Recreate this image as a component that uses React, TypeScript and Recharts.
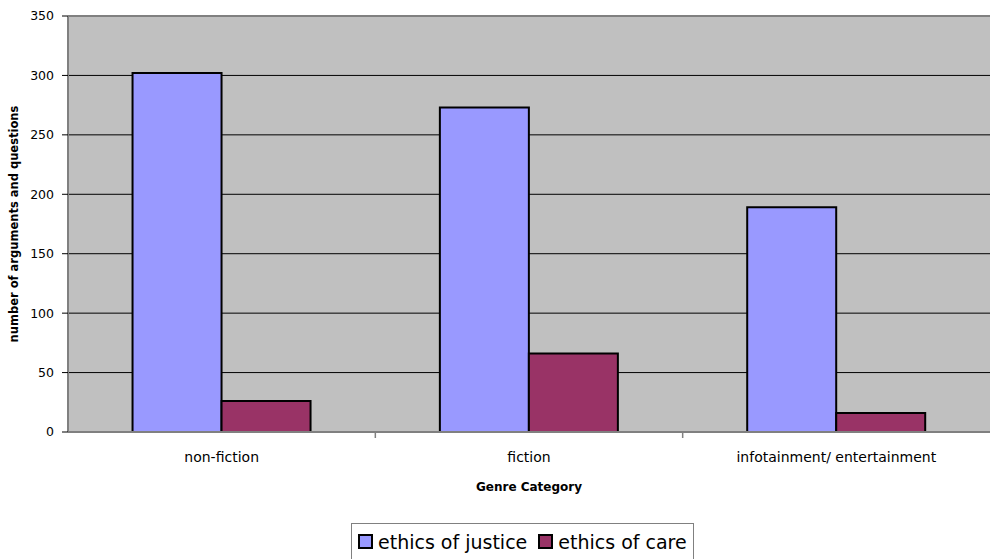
import React from "react";
import { BarChart, Bar, XAxis, YAxis, CartesianGrid, ReferenceLine } from "recharts";

const categories = ["non-fiction", "fiction", "infotainment/ entertainment"];
const justiceValues = [302, 273, 189];
const careValues = [26, 66, 16];
const yTicks = [0, 50, 100, 150, 200, 250, 300, 350];

const SERIES = [
  { key: "justice", name: "ethics of justice", color: "#9999FF" },
  { key: "care", name: "ethics of care", color: "#993366" }
];

const FONT = "'DejaVu Sans', Verdana, sans-serif";
const AXIS_GREY = "#808080";

const data = categories.map((name, i) => ({
  name,
  justice: justiceValues[i],
  care: careValues[i]
}));

// category label in the middle of the band, tick mark at the band's left edge
const CategoryTick = (props: any) => {
  const { x, y, payload } = props;
  const half = payload && payload.offset ? payload.offset : 0;
  const axisY = y - 8;
  return (
    <g>
      {payload.index > 0 && (
        <line x1={x - half} x2={x - half} y1={axisY} y2={axisY + 6} stroke={AXIS_GREY} strokeWidth={1.5} />
      )}
      <text x={x} y={axisY + 30} textAnchor="middle" fontSize={14} fontFamily={FONT} fill="#000">
        {payload.value}
      </text>
    </g>
  );
};

const YTitle = (props: any) => {
  const vb = props.viewBox || { x: 0, y: 16, width: 68, height: 416 };
  const cx = 14;
  const cy = vb.y + vb.height / 2;
  return (
    <text
      x={cx}
      y={cy}
      transform={`rotate(-90, ${cx}, ${cy})`}
      textAnchor="middle"
      dominantBaseline="central"
      fontSize={11.5}
      fontWeight="bold"
      fontFamily={FONT}
      fill="#000"
    >
      number of arguments and questions
    </text>
  );
};

const XTitle = (props: any) => {
  const vb = props.viewBox || { x: 68, y: 432, width: 922, height: 127 };
  return (
    <text
      x={vb.x + vb.width / 2}
      y={vb.y + 55}
      textAnchor="middle"
      dominantBaseline="central"
      fontSize={12}
      fontWeight="bold"
      fontFamily={FONT}
      fill="#000"
    >
      Genre Category
    </text>
  );
};

export default function App() {
  return (
    <div style={{ position: "absolute", left: 0, top: 0, width: 990, height: 559, background: "#fff" }}>
      <BarChart
        width={990}
        height={559}
        data={data}
        margin={{ top: 16, right: 0, left: 0, bottom: 0 }}
        barCategoryGap="21%"
        barGap={0}
      >
        <CartesianGrid vertical={false} stroke="#000" strokeOpacity={1} fill="#C0C0C0" fillOpacity={1} />
        <XAxis
          dataKey="name"
          height={127}
          interval={0}
          tickLine={false}
          axisLine={{ stroke: AXIS_GREY, strokeWidth: 2 }}
          tick={<CategoryTick />}
          label={<XTitle />}
        />
        <YAxis
          width={68}
          domain={[0, 350]}
          ticks={yTicks}
          interval={0}
          tickSize={6}
          tickMargin={8}
          tickLine={{ stroke: "#000" }}
          axisLine={{ stroke: AXIS_GREY, strokeWidth: 2 }}
          tick={{ fontSize: 12.5, fontFamily: FONT, fill: "#000" }}
          label={<YTitle />}
        />
        <ReferenceLine y={350} stroke={AXIS_GREY} strokeWidth={2} />
        {SERIES.map((s) => (
          <Bar
            key={s.key}
            dataKey={s.key}
            name={s.name}
            fill={s.color}
            stroke="#000"
            strokeWidth={2}
            isAnimationActive={false}
          />
        ))}
      </BarChart>
      <div
        style={{
          position: "absolute",
          left: 351,
          top: 523,
          height: 36,
          boxSizing: "border-box",
          border: `1px solid ${AXIS_GREY}`,
          borderBottom: "none",
          display: "flex",
          alignItems: "center",
          padding: "0 6px 0 6px",
          fontFamily: FONT,
          fontSize: 19,
          color: "#000",
          whiteSpace: "nowrap"
        }}
      >
        {SERIES.map((s, i) => (
          <div key={s.key} style={{ display: "flex", alignItems: "center", marginLeft: i > 0 ? 11 : 0 }}>
            <span
              style={{
                display: "inline-block",
                width: 11,
                height: 11,
                background: s.color,
                border: "2px solid #000",
                marginRight: 5
              }}
            />
            <span>{s.name}</span>
          </div>
        ))}
      </div>
    </div>
  );
}
